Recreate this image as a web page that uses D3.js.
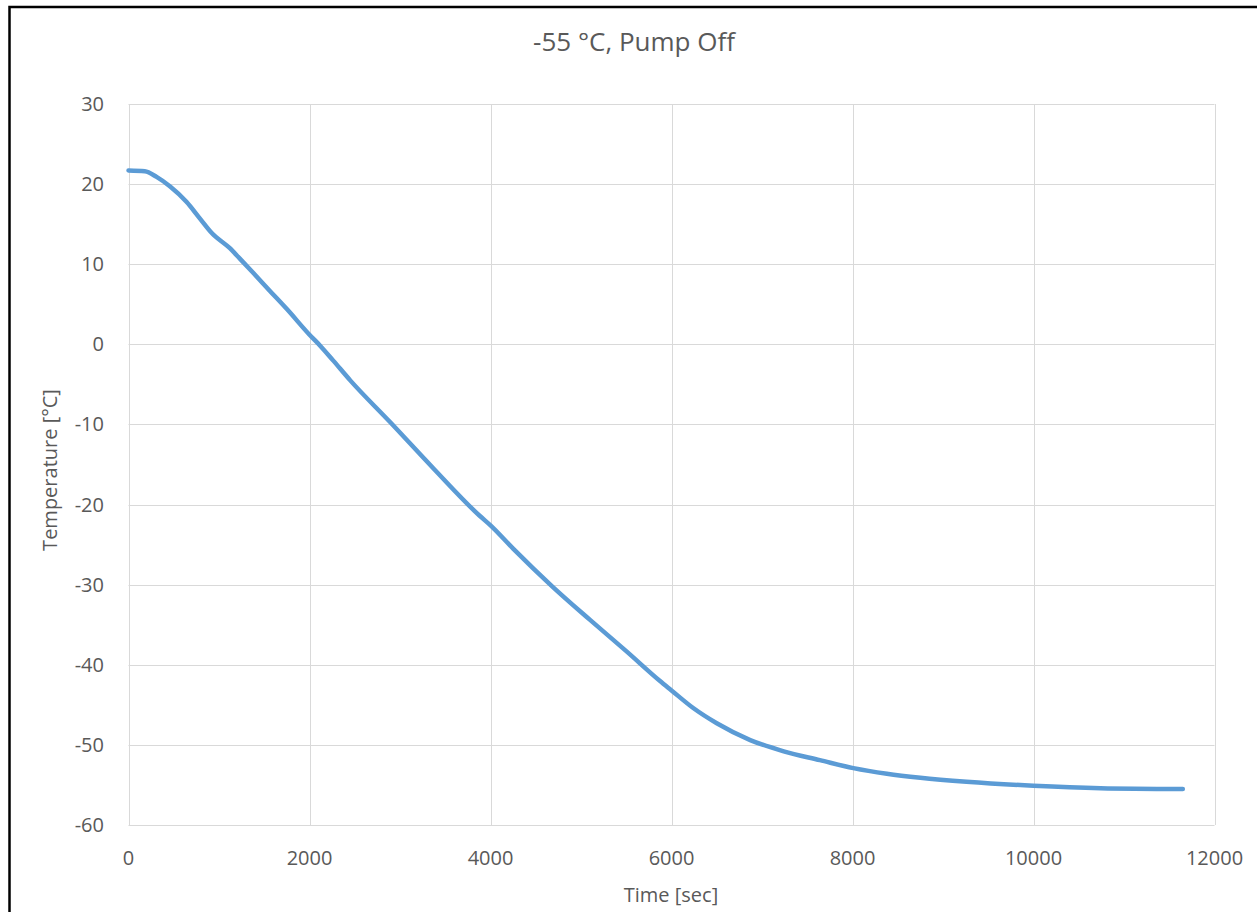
<!DOCTYPE html>
<html lang="en">
<head>
<meta charset="utf-8">
<title>-55 °C, Pump Off</title>
<style type="text/css">
body { margin: 0; background: #fff; }
text { font-family: "Open Sans", "DejaVu Sans", sans-serif; fill: #595959; }
.grid line { stroke: #d9d9d9; stroke-width: 1; }
.tick-label { font-size: 20px; }
</style>
<script src="https://cdn.jsdelivr.net/npm/d3@7"></script>
</head>
<body>
<script type="text/javascript">
var times = [0, 180, 310, 460, 640, 790, 920, 1120, 1230, 1380, 1560, 1750, 2000, 2120, 2260, 2450,
             2890, 3370, 3880, 4000, 4250, 4690, 5100, 5500, 5870, 6000, 6240, 6500, 6870, 7240,
             7640, 8010, 8380, 8750, 9260, 10000, 10740, 11650];
var temps = [21.7, 21.6, 20.9, 19.7, 17.8, 15.7, 13.9, 12.0, 10.7, 8.9, 6.7, 4.4, 1.2, -0.2, -2.0, -4.5,
             -9.7, -15.5, -21.4, -22.6, -25.5, -30.3, -34.4, -38.3, -42.0, -43.2, -45.4, -47.3, -49.4, -50.8,
             -51.9, -52.9, -53.6, -54.1, -54.6, -55.1, -55.4, -55.5];
var xTicks = [0, 2000, 4000, 6000, 8000, 10000, 12000];
var yTicks = [30, 20, 10, 0, -10, -20, -30, -40, -50, -60];

var w = 1257, h = 912;
var plotL = 128.5, plotR = 1214.5, plotT = 104, plotB = 825;

var svg = d3.select("body").append("svg")
            .attr("width", w)
            .attr("height", h);

// outer frame
svg.append("rect")
   .attr("x", 9.5).attr("y", 7)
   .attr("width", 1400).attr("height", 1100)
   .attr("fill", "none")
   .attr("stroke", "#000")
   .attr("stroke-width", 2.5);

var x = d3.scaleLinear().domain([0, 12000]).range([plotL, plotR]);
var y = d3.scaleLinear().domain([-60, 30]).range([plotB, plotT]);

var grid = svg.append("g").attr("class", "grid");
grid.selectAll(".h").data(yTicks).enter().append("line")
    .attr("x1", plotL).attr("x2", plotR)
    .attr("y1", function(d){ return Math.round(y(d)) + 0.5; })
    .attr("y2", function(d){ return Math.round(y(d)) + 0.5; });
grid.selectAll(".v").data(xTicks).enter().append("line")
    .attr("y1", plotT).attr("y2", plotB)
    .attr("x1", function(d){ return Math.round(x(d)) + 0.5; })
    .attr("x2", function(d){ return Math.round(x(d)) + 0.5; });

svg.selectAll(".ylab").data(yTicks).enter().append("text")
   .attr("class", "tick-label")
   .attr("x", 104)
   .attr("y", function(d){ return y(d); })
   .attr("dy", "0.35em")
   .attr("text-anchor", "end")
   .text(function(d){ return d; });

svg.selectAll(".xlab").data(xTicks).enter().append("text")
   .attr("class", "tick-label")
   .attr("x", function(d){ return x(d); })
   .attr("y", 865)
   .attr("text-anchor", "middle")
   .text(function(d){ return d; });

var line = d3.line()
             .x(function(d, i){ return x(times[i]); })
             .y(function(d){ return y(d); })
             .curve(d3.curveMonotoneX);

svg.append("path")
   .datum(temps)
   .attr("d", line)
   .attr("fill", "none")
   .attr("stroke", "#5b9bd5")
   .attr("stroke-width", 4.5)
   .attr("stroke-linejoin", "round")
   .attr("stroke-linecap", "round");

svg.append("text")
   .attr("x", 634).attr("y", 51)
   .attr("text-anchor", "middle")
   .style("font-size", "26px")
   .text("-55 °C, Pump Off");

svg.append("text")
   .attr("x", 671).attr("y", 902)
   .attr("text-anchor", "middle")
   .style("font-size", "20px")
   .text("Time [sec]");

svg.append("text")
   .attr("transform", "translate(57,470) rotate(-90)")
   .attr("text-anchor", "middle")
   .style("font-size", "20px")
   .text("Temperature [°C]");
</script>
</body>
</html>
